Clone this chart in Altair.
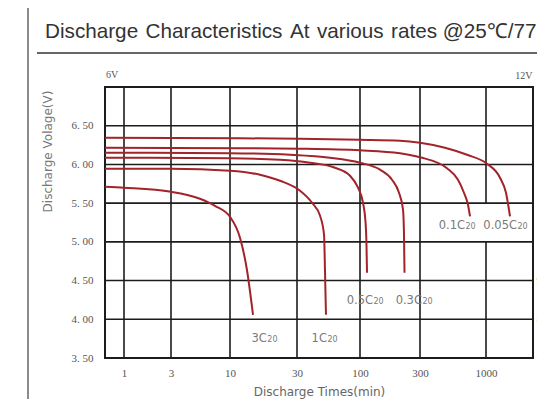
import altair as alt
import pandas as pd

# ---------------- data ----------------
chart_title = "Discharge \u200aCharacteristics \u200aAt \u200avarious \u200arates @25℃/77°F"

series_names = ["0.05C", "0.1C", "0.3C", "0.5C", "1C", "3C"]

t_005 = [0.64, 11.78, 31.8, 100, 208, 300, 473, 707, 1018, 1290, 1438, 1547]
v_005 = [6.345, 6.338, 6.332, 6.319, 6.306, 6.280, 6.216, 6.125, 6.009, 5.828, 5.634, 5.33]
t_01 = [0.64, 11.78, 31.8, 100, 208, 300, 491, 600, 669, 720, 747]
v_01 = [6.216, 6.209, 6.203, 6.183, 6.145, 6.093, 5.951, 5.802, 5.634, 5.479, 5.33]
t_03 = [0.64, 10, 26.7, 56.3, 100, 144.2, 179.7, 204.2, 219.8, 223.8, 225.9]
v_03 = [6.151, 6.145, 6.125, 6.087, 6.022, 5.932, 5.802, 5.634, 5.415, 5.092, 4.60]
t_05 = [0.64, 10, 22.7, 38.4, 62.0, 82.6, 96.3, 105.6, 110.6, 112.6, 113.7]
v_05 = [6.087, 6.080, 6.061, 6.022, 5.957, 5.854, 5.699, 5.505, 5.260, 4.963, 4.60]
t_1 = [0.64, 3, 10, 16.36, 22.7, 31.8, 40.0, 46.6, 50.3, 51.2, 52.2]
v_1 = [5.944, 5.944, 5.919, 5.867, 5.789, 5.660, 5.505, 5.337, 5.092, 4.640, 4.058]
t_3 = [0.64, 1, 3, 5.41, 7.36, 10, 11.78, 13.2, 14.58]
v_3 = [5.712, 5.699, 5.647, 5.557, 5.466, 5.324, 5.053, 4.640, 4.058]

# curve labels: main part and subscript "20"; (t, v) is the join point on the baseline
label_main = ["3C", "1C", "0.5C", "0.3C", "0.1C", "0.05C"]
label_sub = ["20", "20", "20", "20", "20", "20"]
label_t = [18.3, 53.2, 126.9, 311, 682, 1757]
label_v = [3.71, 3.71, 4.20, 4.20, 5.17, 5.17]

x_ticks = [1, 3, 10, 30, 100, 300, 1000]
y_ticks = [3.5, 4.0, 4.5, 5.0, 5.5, 6.0, 6.5]
h_grid = [4.0, 4.5, 5.0, 5.5, 6.0, 6.5]
# vertical grid segments (the 1000 line is broken behind the labels)
vg_t = [1, 3, 10, 30, 100, 300, 1000, 1000]
vg_lo = [3.5, 3.5, 3.5, 3.5, 3.5, 3.5, 3.5, 5.5]
vg_hi = [7.0, 7.0, 7.0, 7.0, 7.0, 7.0, 5.0, 7.0]

# ---------------- tables ----------------
rows = []
for name, ts, vs in zip(series_names,
                        [t_005, t_01, t_03, t_05, t_1, t_3],
                        [v_005, v_01, v_03, v_05, v_1, v_3]):
    for t, v in zip(ts, vs):
        rows.append({"series": name, "t": t, "v": v})
curves = pd.DataFrame(rows)
labels = pd.DataFrame({"main": label_main, "sub": label_sub, "t": label_t, "v": label_v})
hgrid = pd.DataFrame({"v": h_grid})
vgrid = pd.DataFrame({"t": vg_t, "v": vg_lo, "v2": vg_hi})
one = pd.DataFrame({"k": [0]})

W, H = 428, 271
RED = "#a3232b"
GRID = "#1c1c1c"
LABEL_FONT = "Liberation Serif"
SANS = "DejaVu Sans"

x_scale = alt.Scale(type="log",
                    domain=[0.64, 1, 3, 10, 30, 100, 300, 1000, 2350],
                    range=[0, 19, 66, 125, 192, 255, 315, 381, 428],
                    nice=False)
y_scale = alt.Scale(domain=[3.5, 7.0], nice=False, zero=False)

X = alt.X("t:Q", scale=x_scale,
          axis=alt.Axis(values=x_ticks, format="d", grid=False, ticks=False, domain=False,
                        labelFont=LABEL_FONT, labelFontSize=11, labelColor="#555",
                        labelPadding=9, title="Discharge Times(min)",
                        titleFont=SANS, titleFontSize=12, titleFontWeight="normal",
                        titleColor="#666", titlePadding=8))
Y = alt.Y("v:Q", scale=y_scale,
          axis=alt.Axis(values=y_ticks, grid=False, ticks=False, domain=False,
                        labelExpr="replace(format(datum.value, '.2f'), '.', '. ')",
                        labelFont=LABEL_FONT, labelFontSize=11, labelColor="#555",
                        labelPadding=12, labelBaseline="middle",
                        title="Discharge Volage(V)", titleFont=SANS, titleFontSize=12,
                        titleFontWeight="normal", titleColor="#777",
                        titleX=-57.5, titleY=64, titleBaseline="middle", titleAlign="center"))

hrules = alt.Chart(hgrid).mark_rule(color=GRID, strokeWidth=1.6).encode(y=Y)
vrules = alt.Chart(vgrid).mark_rule(color=GRID, strokeWidth=1.6).encode(
    x=X, y=Y, y2="v2:Q")
lines = alt.Chart(curves).mark_line(color=RED, strokeWidth=2, interpolate="monotone").encode(
    x=X, y=Y, detail="series:N")
texts_main = alt.Chart(labels).mark_text(font=SANS, fontSize=11.5, color="#7a7a7a",
                                         baseline="alphabetic", align="right").encode(
    x=X, y=Y, text="main:N")
texts_sub = alt.Chart(labels).mark_text(font=SANS, fontSize=8, color="#7a7a7a",
                                        baseline="alphabetic", align="left", dx=0.5).encode(
    x=X, y=Y, text="sub:N")

v6 = alt.Chart(one).mark_text(text="6V", font=LABEL_FONT, fontSize=10, color="#555",
                              align="left", baseline="middle").encode(
    x=alt.value(1), y=alt.value(-12))
title = alt.Chart(one).mark_text(text=chart_title, font="Liberation Sans", fontSize=20.7,
                                 color="#333", align="left", baseline="alphabetic").encode(
    x=alt.value(-60), y=alt.value(-49.5))
title_rule = alt.Chart(one).mark_rule(color="#333", strokeWidth=1.6).encode(
    x=alt.value(-68), x2=alt.value(460), y=alt.value(-34))
frame_left = alt.Chart(one).mark_rule(color="#8a8a8a", strokeWidth=2).encode(
    x=alt.value(-77), y=alt.value(-82), y2=alt.value(320))
frame_top = alt.Chart(one).mark_rule(color="#8a8a8a", strokeWidth=2).encode(
    x=alt.value(-77), x2=alt.value(460), y=alt.value(-82))

inner = alt.layer(frame_left, frame_top, title, title_rule,
                  hrules, vrules, lines, texts_main, texts_sub, v6)

Y_right = alt.Y("v:Q", scale=y_scale,
                axis=alt.Axis(orient="right", values=y_ticks, grid=False, ticks=False, domain=False,
                              labelExpr="replace(format(datum.value * 2, '.2f'), '.', '. ')",
                              labelFont=LABEL_FONT, labelFontSize=11, labelColor="#555",
                              labelPadding=3, labelBaseline="middle",
                              title="12V", titleAngle=0, titleX=-1, titleY=-12,
                              titleAlign="right", titleBaseline="middle",
                              titleFont=LABEL_FONT, titleFontSize=10,
                              titleFontWeight="normal", titleColor="#555"))
right = alt.Chart(hgrid).mark_rule(opacity=0).encode(y=Y_right)

chart = alt.layer(inner, right).resolve_axis(y="independent").properties(
    width=W, height=H,
    autosize=alt.AutoSizeParams(type="none"),
    padding={"left": 97, "top": 79, "right": 4, "bottom": 41},
    background="white",
).configure_view(stroke=GRID, strokeWidth=2)

chart.save("out.html", embed_options={"renderer": "svg", "actions": False})
